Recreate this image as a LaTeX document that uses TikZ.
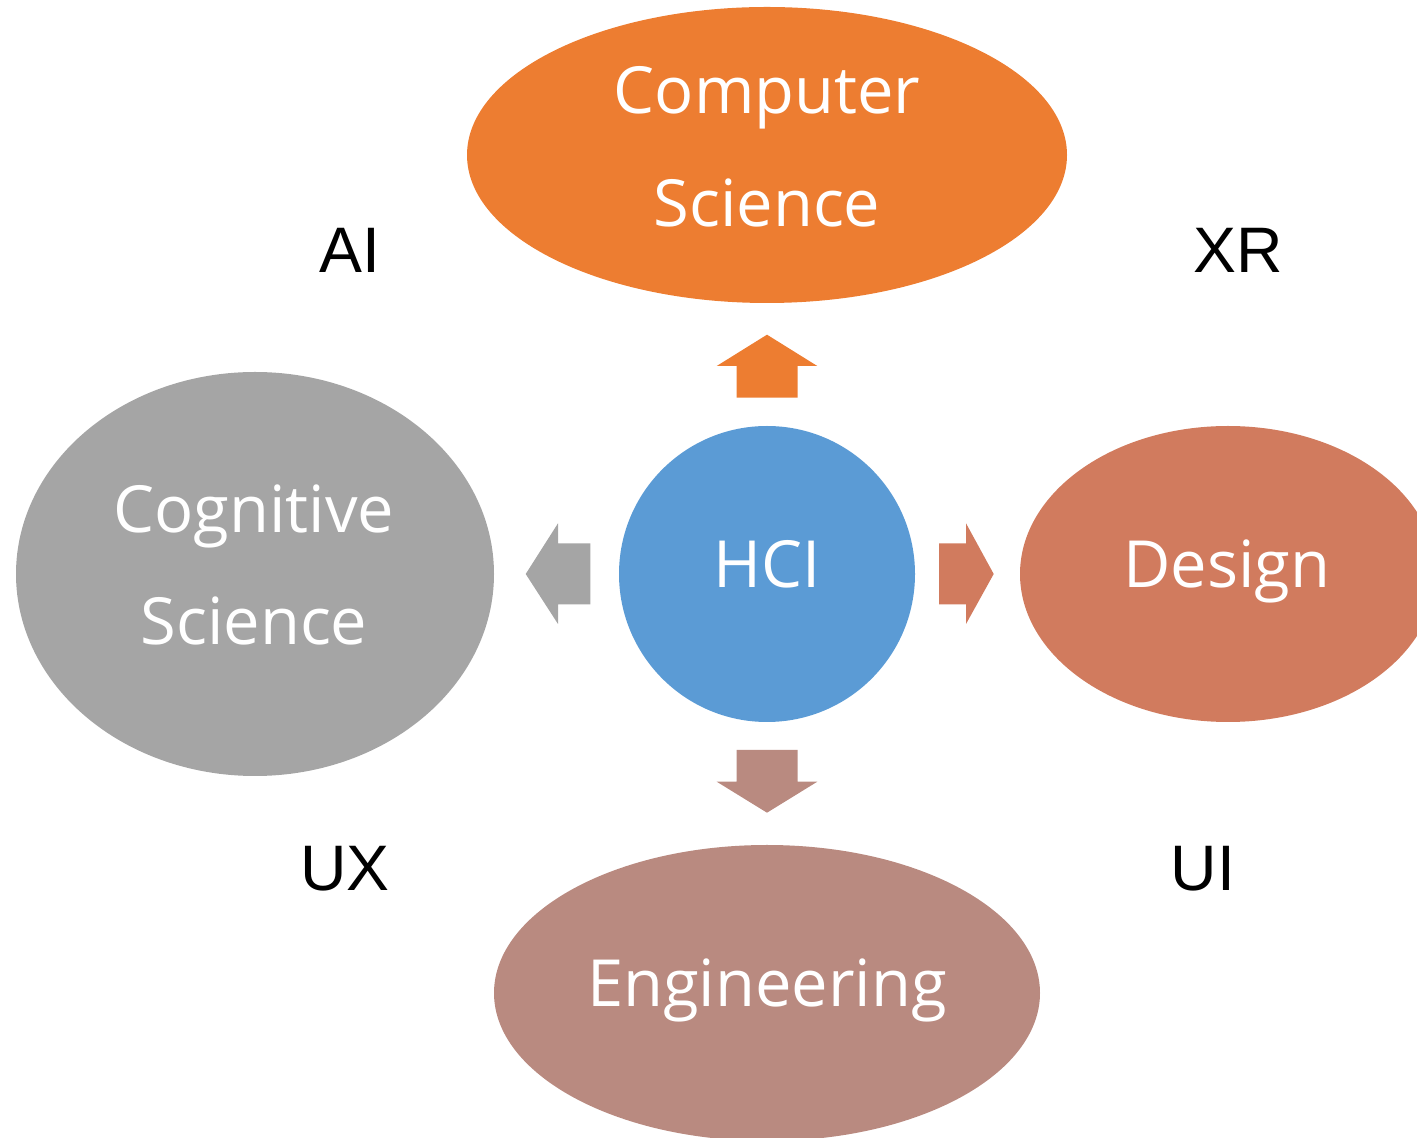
\documentclass[tikz,border=0pt]{standalone}
\usepackage{fontspec}
\setmainfont{Open Sans}
\newfontfamily\tagfont{Liberation Sans}
\usetikzlibrary{shapes.geometric,positioning,calc}
\definecolor{csorange}{HTML}{ED7D31}
\definecolor{coggray}{HTML}{A5A5A5}
\definecolor{hciblue}{HTML}{5B9BD5}
\definecolor{designred}{HTML}{D17B5E}
\definecolor{engrose}{HTML}{B98A80}

\begin{document}
\begin{tikzpicture}[every node/.style={outer sep=0pt},
		blob/.style={ellipse,inner sep=0pt,draw=none},
		fieldtext/.style={text=white,font=\fontsize{18.5}{32}\selectfont,align=center},
		tag/.style={font=\tagfont\fontsize{18.3}{22}\selectfont,anchor=base}
		]
		\useasboundingbox (0,0) rectangle (14.17,-11.38);

		% the five fields
		\node[blob,fill=csorange,minimum width=6cm,minimum height=2.96cm] (cs) at (7.67,-1.55) {};
		\node[blob,fill=coggray,minimum width=4.78cm,minimum height=4.04cm] (cog) at (2.55,-5.74) {};
		\node[blob,fill=hciblue,minimum width=2.96cm,minimum height=2.96cm] (hci) at (7.67,-5.74) {};
		\node[blob,fill=designred,minimum width=4.16cm,minimum height=2.96cm] (design) at (12.28,-5.74) {};
		\node[blob,fill=engrose,minimum width=5.46cm,minimum height=2.96cm] (eng) at (7.67,-9.93) {};

		\node[fieldtext] (cstext) at (7.67,-1.468) {Computer\\Science};
		\node[fieldtext] (cogtext) at (2.54,-5.649) {Cognitive\\Science};
		\node[fieldtext,anchor=base] (hcitext) at (7.67,-5.877) {HCI};
		\node[fieldtext,anchor=base] (designtext) at (12.27,-5.877) {Design};
		\node[fieldtext,anchor=base] (engtext) at (7.67,-10.067) {Engineering};

		% block arrows out of HCI
		\fill[csorange] (7.367,-3.977) -- (7.367,-3.66) -- (7.167,-3.66) -- (7.67,-3.347) -- (8.173,-3.66) -- (7.977,-3.66) -- (7.977,-3.977) -- cycle;
		\fill[coggray] (5.903,-5.433) -- (5.58,-5.433) -- (5.58,-5.233) -- (5.257,-5.74) -- (5.58,-6.24) -- (5.58,-6.043) -- (5.903,-6.043) -- cycle;
		\fill[designred] (9.39,-5.433) -- (9.66,-5.433) -- (9.66,-5.233) -- (9.937,-5.74) -- (9.66,-6.24) -- (9.66,-6.043) -- (9.39,-6.043) -- cycle;
		\fill[engrose] (7.367,-7.50) -- (7.367,-7.817) -- (7.167,-7.817) -- (7.67,-8.127) -- (8.173,-7.817) -- (7.977,-7.817) -- (7.977,-7.50) -- cycle;

		% corner tags
		\node[tag] (ai) at (3.495,-2.727) {AI};
		\node[tag] (xr) at (12.38,-2.727) {XR};
		\node[tag] (ux) at (3.45,-8.907) {UX};
		\node[tag] (ui) at (12.03,-8.907) {UI};
	\end{tikzpicture}
\end{document}
